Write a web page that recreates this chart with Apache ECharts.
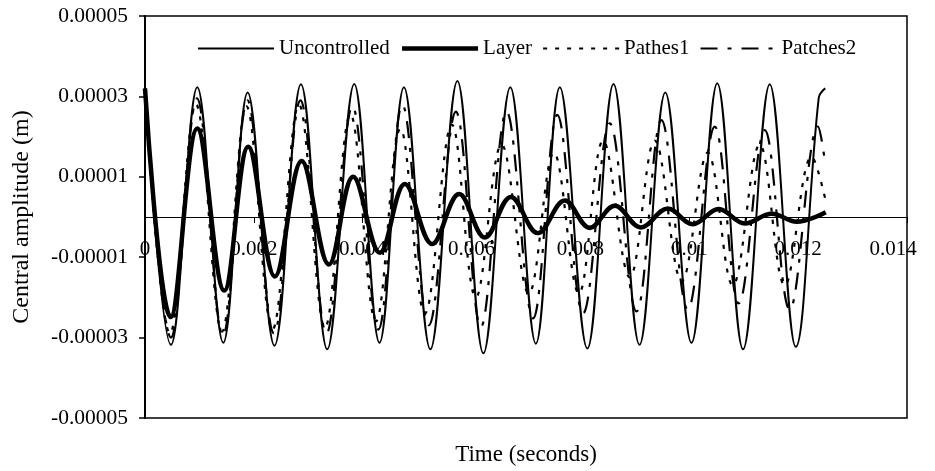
<!DOCTYPE html>
<html>
<head>
<meta charset="utf-8">
<script src="https://cdn.jsdelivr.net/npm/echarts@6/dist/echarts.min.js"></script>
<style>
html,body{margin:0;padding:0;background:#fff;}
#chart{width:935px;height:471px;}
</style>
</head>
<body>
<div id="chart"></div>
<script>
// series names
var seriesNames = ['Uncontrolled', 'Layer', 'Pathes1', 'Patches2'];

// y axis tick labels
var yTicks = [-0.00005, -0.00003, -0.00001, 0.00001, 0.00003, 0.00005];

// Uncontrolled: peaks / troughs (s, m)
var tUncontrolled = [0, 0.0004775, 0.0009605, 0.001438, 0.001886, 0.002378, 0.002865, 0.003348, 0.003844, 0.004308,
	0.004757, 0.005243, 0.005739, 0.006217, 0.006712, 0.007181, 0.007621, 0.008127, 0.008608, 0.009085,
	0.009559, 0.010040, 0.010514, 0.010988, 0.011478, 0.011956, 0.012378, 0.012497];
var yUncontrolled = [3.2e-5, -3.18e-5, 3.23e-5, -3.13e-5, 3.10e-5, -3.2e-5, 3.3e-5, -3.29e-5, 3.31e-5, -3.13e-5,
	3.23e-5, -3.29e-5, 3.38e-5, -3.39e-5, 3.23e-5, -3.15e-5, 3.23e-5, -3.27e-5, 3.31e-5, -3.18e-5,
	3.10e-5, -3.13e-5, 3.33e-5, -3.29e-5, 3.30e-5, -3.23e-5, 2.96e-5, 3.2e-5];

// Layer
var tLayer = [0, 0.000472, 0.0009605, 0.001456, 0.001897, 0.002387, 0.002878, 0.003379, 0.003825, 0.004316,
	0.004775, 0.005276, 0.005772, 0.006244, 0.006722, 0.007217, 0.007713, 0.008172, 0.008632, 0.009109,
	0.009605, 0.010064, 0.010541, 0.011019, 0.011515, 0.011974, 0.012507];
var yLayer = [3.2e-5, -2.49e-5, 2.2e-5, -1.83e-5, 1.75e-5, -1.48e-5, 1.39e-5, -1.18e-5, 1.0e-5, -0.89e-5,
	0.82e-5, -0.67e-5, 0.57e-5, -0.51e-5, 0.5e-5, -0.4e-5, 0.41e-5, -0.27e-5, 0.28e-5, -0.26e-5,
	0.21e-5, -0.18e-5, 0.2e-5, -0.16e-5, 0.08e-5, -0.12e-5, 0.12e-5];

// Pathes1
var tPathes1 = [0, 0.000459, 0.000937, 0.001414, 0.001864, 0.002342, 0.002828, 0.003306, 0.003774, 0.004242,
	0.004692, 0.005142, 0.005638, 0.006079, 0.006551, 0.007052, 0.007511, 0.007970, 0.008417, 0.008907,
	0.009366, 0.009862, 0.010339, 0.010799, 0.011294, 0.011754, 0.012249, 0.012507];
var yPathes1 = [3.2e-5, -2.9e-5, 2.8e-5, -2.85e-5, 2.75e-5, -2.8e-5, 2.8e-5, -2.75e-5, 2.55e-5, -2.6e-5,
	2.2e-5, -2.4e-5, 2.3e-5, -2.0e-5, 1.8e-5, -1.9e-5, 1.6e-5, -1.9e-5, 1.9e-5, -1.5e-5,
	1.9e-5, -1.6e-5, 1.6e-5, -1.7e-5, 1.8e-5, -1.7e-5, 1.5e-5, 0.4e-5];

// Patches2
var tPatches2 = [0, 0.0004775, 0.000955, 0.001432, 0.001882, 0.002369, 0.002856, 0.003333, 0.003811, 0.004288,
	0.004729, 0.005216, 0.005712, 0.006171, 0.006643, 0.007131, 0.007576, 0.008049, 0.008540, 0.009030,
	0.009489, 0.009972, 0.010468, 0.010909, 0.011386, 0.011845, 0.012365, 0.012497];
var yPatches2 = [3.2e-5, -3.0e-5, 2.95e-5, -2.95e-5, 2.9e-5, -2.9e-5, 2.9e-5, -2.9e-5, 2.75e-5, -2.8e-5,
	2.79e-5, -2.69e-5, 2.62e-5, -2.73e-5, 2.62e-5, -2.52e-5, 2.54e-5, -2.4e-5, 2.33e-5, -2.35e-5,
	2.41e-5, -2.3e-5, 2.25e-5, -2.15e-5, 2.16e-5, -2.3e-5, 2.25e-5, 1.34e-5];

function pairs(t, y){
	var out = [];
	for(var i = 0; i < t.length; i++){
		out.push([t[i], y[i]]);
	}
	return out;
}

var font = 'Liberation Serif, Times New Roman, serif';

function lineSeries(name, t, y, lineStyle){
	return {
		name: name,
		type: 'line',
		data: pairs(t, y),
		smooth: 0.38,
		symbol: 'none',
		lineStyle: lineStyle,
		itemStyle: {color: '#000'},
		z: 3
	};
}

var myChart = echarts.init(document.getElementById('chart'));
var option = {
	backgroundColor: '#fff',
	animation: false,
	textStyle: {fontFamily: font, color: '#000'},
	grid: {
		left: 145, right: 28, top: 16, bottom: 53,
		containLabel: false,
		outerBoundsMode: 'none',
		show: true,
		borderColor: '#000',
		borderWidth: 1.5,
		backgroundColor: 'transparent'
	},
	legend: {
		left: 197,
		top: 38,
		padding: 0,
		itemWidth: 76,
		itemHeight: 14,
		itemGap: 10,
		itemStyle: {opacity: 0},
		lineStyle: {width: 'inherit'},
		textStyle: {fontFamily: font, fontSize: 21, color: '#000'},
		data: seriesNames
	},
	xAxis: {
		type: 'value',
		min: 0,
		max: 0.014,
		interval: 0.002,
		// axis sits on the zero line of the y axis
		offset: -201,
		name: 'Time (seconds)',
		nameLocation: 'middle',
		nameGap: 226,
		nameTextStyle: {fontFamily: font, fontSize: 23, color: '#000'},
		axisLine: {show: true, onZero: false, lineStyle: {color: '#000', width: 1}},
		axisTick: {show: true, length: 6, lineStyle: {color: '#000'}},
		axisLabel: {
			margin: 22,
			fontFamily: font, fontSize: 21, color: '#000',
			formatter: function(v){
				if(v === 0) return '0';
				var s = String(+v.toFixed(3));
				//最后一个标签往左挪一点
				return v >= 0.014 ? '{last|' + s + '}' : s;
			},
			rich: {
				last: {fontFamily: font, fontSize: 21, color: '#000', padding: [0, 28, 0, 0]}
			}
		},
		splitLine: {show: false}
	},
	yAxis: {
		type: 'value',
		min: -0.00005,
		max: 0.00005,
		name: 'Central amplitude (m)',
		nameLocation: 'middle',
		nameGap: 111,
		nameRotate: 90,
		nameTextStyle: {fontFamily: font, fontSize: 24, color: '#000'},
		axisLine: {show: true, onZero: false, lineStyle: {color: '#000', width: 2}},
		axisTick: {show: true, length: 6, customValues: yTicks, lineStyle: {color: '#000', width: 1.5}},
		axisLabel: {
			margin: 17,
			customValues: yTicks,
			fontFamily: font, fontSize: 21.5, color: '#000',
			formatter: function(v){ return v.toFixed(5); }
		},
		splitLine: {show: false}
	},
	series: [
		lineSeries('Uncontrolled', tUncontrolled, yUncontrolled, {color: '#000', width: 2, type: 'solid'}),
		lineSeries('Layer', tLayer, yLayer, {color: '#000', width: 4.5, type: 'solid'}),
		lineSeries('Pathes1', tPathes1, yPathes1, {color: '#000', width: 2.2, type: [4, 8]}),
		lineSeries('Patches2', tPatches2, yPatches2, {color: '#000', width: 2.2, type: [17, 10, 4, 10]})
	]
};
myChart.setOption(option);
</script>
</body>
</html>
